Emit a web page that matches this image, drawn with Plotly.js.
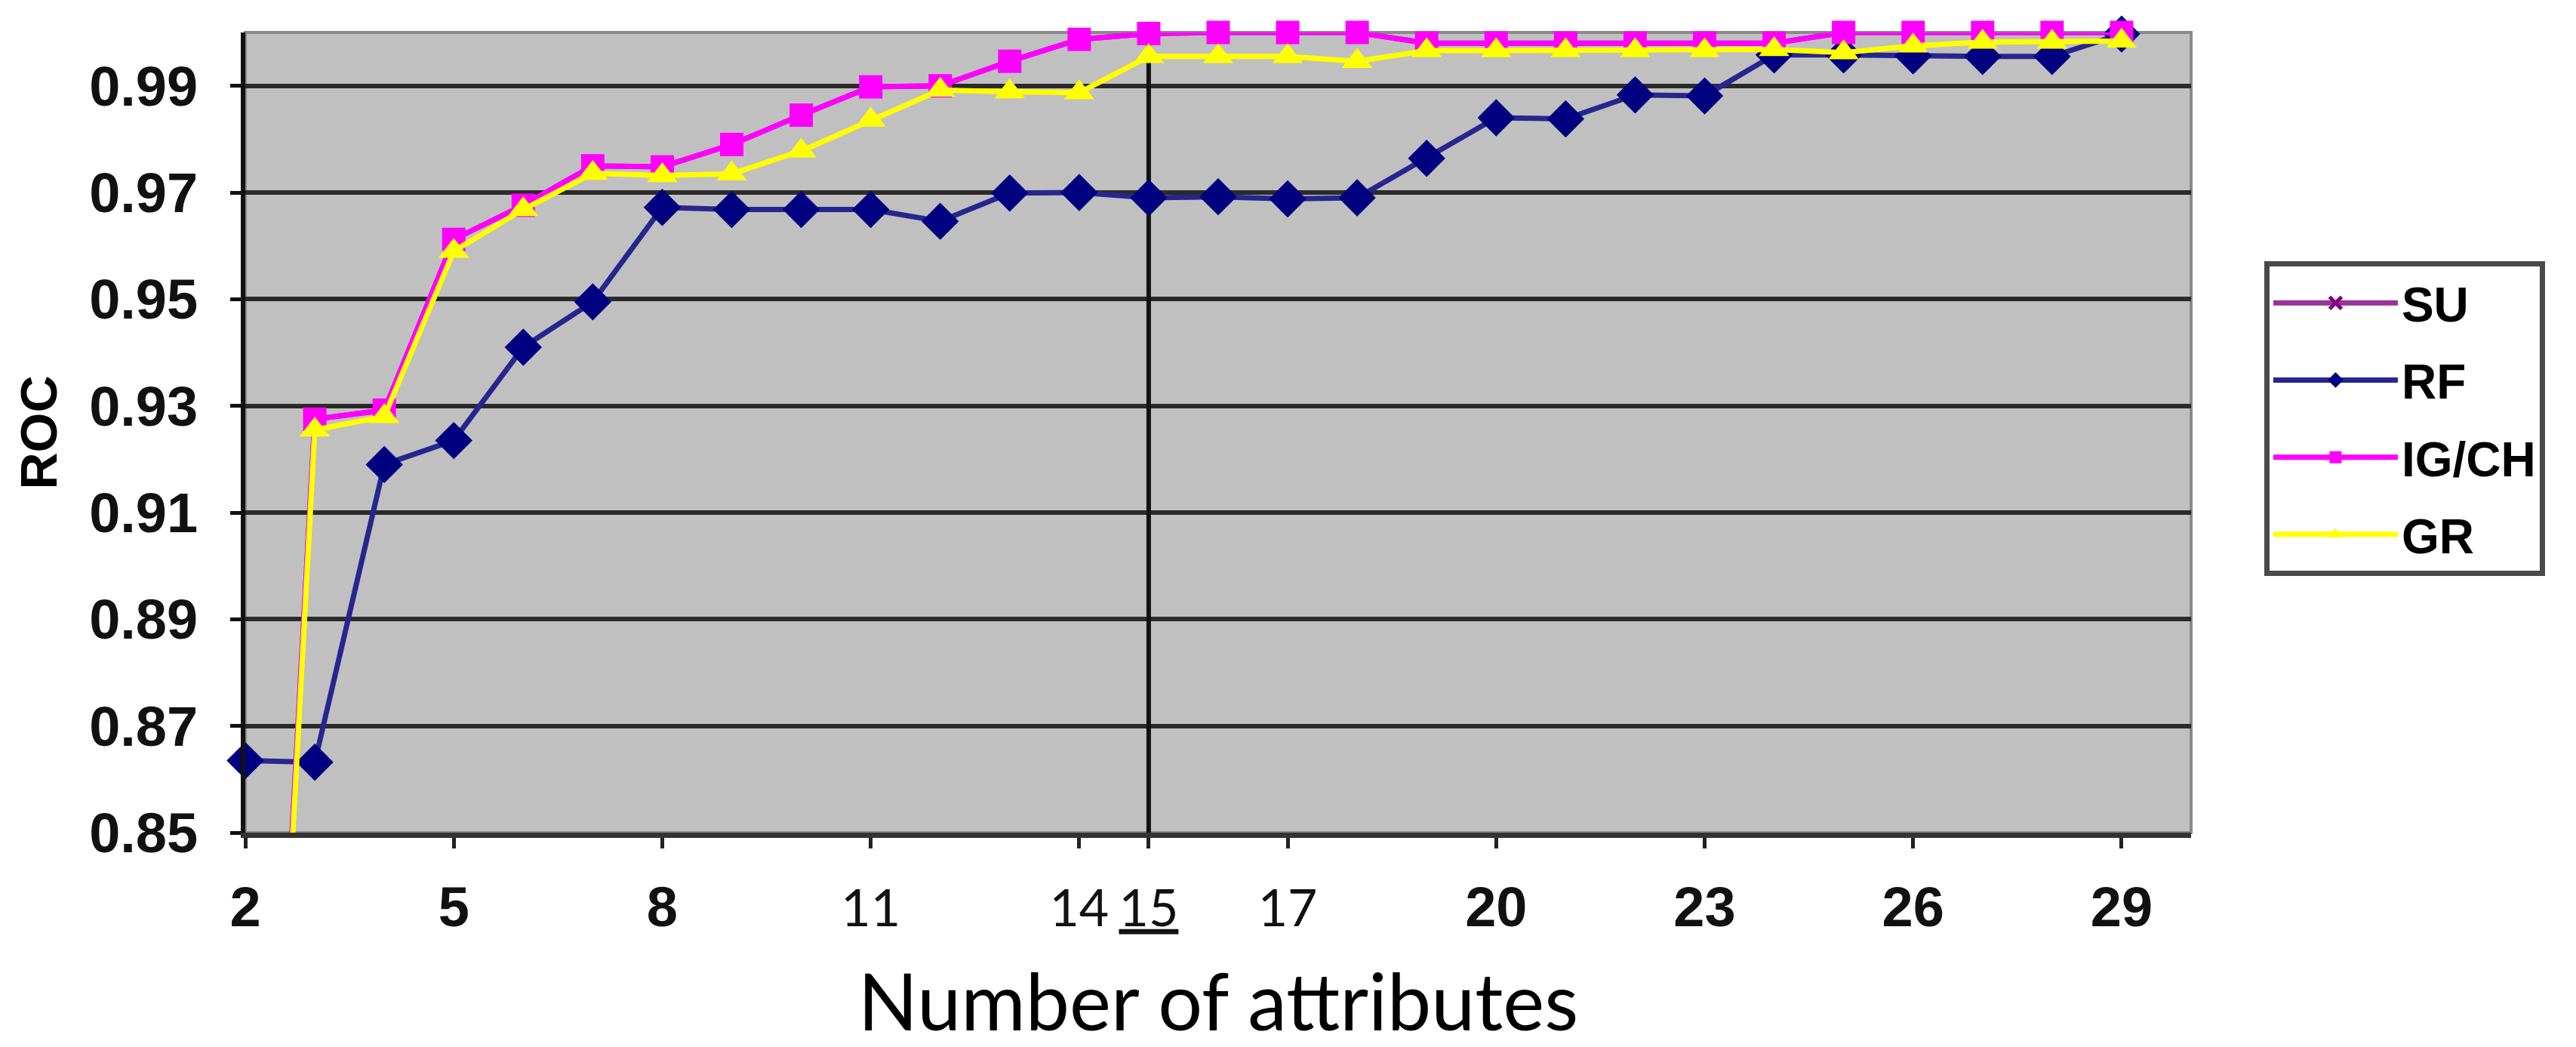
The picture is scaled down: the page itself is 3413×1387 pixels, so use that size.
<!DOCTYPE html>
<html>
<head>
<meta charset="utf-8">
<script src="https://cdn.plot.ly/plotly-3.0.1.min.js"></script>
<style>html,body{margin:0;padding:0;background:#fff;}</style>
</head>
<body>
<div id="chart" style="width:3413px;height:1387px;"></div>
<script>
// ---- data ----
const attributes = [2,3,4,5,6,7,8,9,10,11,12,13,14,15,16,17,18,19,20,21,22,23,24,25,26,27,28,29];
const su   = [0.690,0.9275,0.9292,0.9612,0.9676,0.9750,0.9748,0.9790,0.9845,0.9898,0.9900,0.9946,0.9987,0.9998,1.0,1.0,1.0,0.998,0.998,0.998,0.998,0.998,0.998,1.0,1.0,1.0,1.0,1.0];
const rf   = [0.8635,0.8632,0.9190,0.9235,0.9410,0.9495,0.9672,0.9668,0.9668,0.9668,0.9646,0.9699,0.9700,0.9690,0.9692,0.9688,0.9690,0.9764,0.9840,0.9838,0.9883,0.9881,0.9958,0.9958,0.9956,0.9955,0.9955,0.9997];
const igch = [0.690,0.9275,0.9292,0.9612,0.9676,0.9750,0.9748,0.9790,0.9845,0.9898,0.9900,0.9946,0.9987,0.9998,1.0,1.0,1.0,0.998,0.998,0.998,0.998,0.998,0.998,1.0,1.0,1.0,1.0,1.0];
const gr   = [0.686,0.9255,0.9280,0.9590,0.9668,0.9736,0.9732,0.9735,0.9778,0.9836,0.9892,0.9889,0.9887,0.9955,0.9955,0.9955,0.9946,0.9966,0.9966,0.9966,0.9966,0.9966,0.9968,0.9962,0.9975,0.9982,0.9982,0.9984];
const seriesNames = ['SU','RF','IG/CH','GR'];
const xTickVals = [2,5,8,11,14,15,17,20,23,26,29];
const xTickText = ['2','5','8','11','14','15','17','20','23','26','29'];
const yTickVals = [0.85,0.87,0.89,0.91,0.93,0.95,0.97,0.99];
const yTickText = ['0.85','0.87','0.89','0.91','0.93','0.95','0.97','0.99'];
const highlightAttr = 15;
const xTitle = 'Number of attributes';
const yTitle = 'ROC';

// ---- styling ----
const thinLabels = new Set(['11','14','15','17']);
const styledXTicks = xTickText.map(t => {
  let s = thinLabels.has(t)
    ? '<span style="font-family:Lato;font-weight:normal;font-size:68px">' + t + '</span>'
    : t;
  if (Number(t) === highlightAttr) s = '<u>' + s + '</u>';
  return s;
});

const boldFont = 'Liberation Sans, Arial, sans-serif';

const traces = [
  {name: seriesNames[0], x: attributes, y: su, mode: 'lines+markers', legendgroup: 'g1',
   line: {color: '#993399', width: 7},
   marker: {symbol: 'x-thin-open', size: 24, color: '#800080', line: {color: '#800080', width: 5}},
   cliponaxis: false},
  {name: seriesNames[1], x: attributes, y: rf, mode: 'lines+markers', legendgroup: 'g2',
   line: {color: '#26268f', width: 7},
   marker: {symbol: 'diamond', size: 38, color: '#000080'},
   cliponaxis: false},
  {name: seriesNames[2], x: attributes, y: igch, mode: 'lines+markers', legendgroup: 'g3',
   line: {color: '#ff00ff', width: 7},
   marker: {symbol: 'square', size: 31, color: '#ff00ff'},
   cliponaxis: false},
  {name: seriesNames[3], x: attributes, y: gr, mode: 'lines+markers', legendgroup: 'g4',
   line: {color: '#ffff00', width: 7},
   marker: {symbol: 'triangle-up', size: 35, color: '#ffff00'},
   cliponaxis: false}
];

const layout = {
  width: 3413, height: 1387,
  margin: {l: 325, r: 510, t: 43, b: 284, pad: 0},
  paper_bgcolor: '#ffffff',
  plot_bgcolor: '#c0c0c0',
  showlegend: true,
  legend: {
    x: 1.0376, xanchor: 'left', y: 0.714, yanchor: 'top',
    bgcolor: '#ffffff', bordercolor: '#4a4a4a', borderwidth: 7,
    font: {family: boldFont, size: 64, weight: 'bold', color: '#000'},
    traceorder: 'grouped', tracegroupgap: 16, itemwidth: 165
  },
  xaxis: {
    range: [2, 30], autorange: false,
    tickmode: 'array', tickvals: xTickVals, ticktext: styledXTicks,
    tickangle: 0,
    ticks: 'outside', ticklen: 14, tickwidth: 5, tickcolor: '#222',
    ticklabelstandoff: 14,
    tickfont: {family: boldFont, size: 74, weight: 'bold', color: '#111'},
    showgrid: false, zeroline: false,
    showline: true, linecolor: '#333', linewidth: 7,
    automargin: false,
    title: {text: xTitle, standoff: 62, font: {family: 'Lato, Open Sans, sans-serif', size: 104, color: '#000'}}
  },
  yaxis: {
    range: [0.85, 1.0], autorange: false,
    tickmode: 'array', tickvals: yTickVals, ticktext: yTickText,
    ticks: 'outside', ticklen: 14, tickwidth: 5, tickcolor: '#111',
    ticklabelstandoff: 28,
    tickfont: {family: boldFont, size: 74, weight: 'bold', color: '#111'},
    showgrid: true, gridcolor: '#2a2a2a', gridwidth: 6,
    zeroline: false,
    showline: true, linecolor: '#111', linewidth: 6,
    automargin: false,
    title: {text: yTitle, standoff: 22, font: {family: boldFont, size: 68, weight: 'bold', color: '#000'}}
  },
  shapes: [
    {type: 'rect', xref: 'paper', yref: 'paper', x0: 0, x1: 1, y0: 0, y1: 1,
     line: {color: '#8a8a8a', width: 4}, layer: 'between'},
    {type: 'line', xref: 'x', yref: 'y', x0: highlightAttr, x1: highlightAttr, y0: 0.85, y1: 1.0,
     line: {color: '#111', width: 6}, layer: 'between'}
  ]
};

Plotly.newPlot('chart', traces, layout, {staticPlot: true, displayModeBar: false});
</script>
</body>
</html>
